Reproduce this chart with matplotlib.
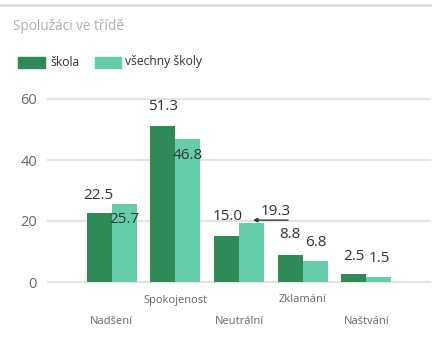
import numpy as np
import matplotlib.pyplot as plt
from matplotlib.patches import Rectangle
from matplotlib.lines import Line2D
from matplotlib.transforms import offset_copy

plt.rcParams['font.family'] = ['Open Sans', 'DejaVu Sans']

categories = ['Nadšení', 'Spokojenost', 'Neutrální', 'Zklamání', 'Naštvání']
skola = [22.5, 51.3, 15.0, 8.8, 2.5]
vsechny = [25.7, 46.8, 19.3, 6.8, 1.5]
yticks = [0, 20, 40, 60]

dark = '#2e8b57'
light = '#66cdaa'

# label offsets in pixels from the top of each bar (dx, dy)
off_skola = [(-1, 18), (0, 19), (1, 20), (0, 21), (0, 18)]
off_vsechny = [(0, -16), (0, -16), (24, 12), (1, 19), (0, 19)]

fig = plt.figure(figsize=(4.38, 3.41), dpi=100)
ax = fig.add_axes([48/438, 59/341, 382/438, 183/341])

x = np.arange(len(categories))
w = 0.394
b1 = ax.bar(x - w/2, skola, w, color=dark)
b2 = ax.bar(x + w/2, vsechny, w, color=light)

ax.set_xlim(-1.0, 5.0)
ax.set_ylim(0, 60)
ax.set_yticks(yticks)
ax.set_xticks([])
ax.grid(axis='y', color='#e3e3e3', lw=1.5)
ax.set_axisbelow(True)
for s in ax.spines.values():
    s.set_visible(False)
ax.tick_params(axis='y', length=0, pad=8, labelsize=10.5, labelcolor='#666666')
for gl in ax.get_ygridlines():
    gl.set_clip_on(False)

def label(bars, vals, offs):
    for r, v, (dx, dy) in zip(bars, vals, offs):
        ax.annotate(f'{v:.1f}', (r.get_x() + r.get_width()/2, v),
                    xytext=(dx, dy), textcoords='offset pixels',
                    ha='center', va='center', fontsize=11, color='#333333')

label(b1, skola, off_skola)
label(b2, vsechny, off_vsechny)

# leader line for the crowded label
r = b2[2]
tip = offset_copy(ax.transData, fig=fig, x=1.5, y=3, units='dots')
ax.annotate('', xy=(r.get_x() + r.get_width()/2, vsechny[2]), xycoords=tip,
            xytext=(35, 0), textcoords='offset pixels',
            arrowprops=dict(arrowstyle='-|>', color='#333333', lw=1,
                            mutation_scale=6, shrinkA=0, shrinkB=0),
            annotation_clip=False)

# category labels, staggered in two rows
for i, c in enumerate(categories):
    dy = -40 if i % 2 == 0 else -18
    ax.annotate(c, (i, 0), xytext=(0, dy), textcoords='offset pixels',
                ha='center', va='center', fontsize=8, color='#666666',
                annotation_clip=False)

fig.text(13/438, 1 - 27/341, 'Spolužáci ve třídě', fontsize=9.8,
         color='#b0b0b0', ha='left', va='center')

# legend
fig.patches.append(Rectangle((18/438, 1 - 68/341), 27/438, 11/341,
                             transform=fig.transFigure, color=dark))
fig.text(50/438, 1 - 62/341, 'škola', fontsize=8.7, color='#333333', va='center')
fig.patches.append(Rectangle((95/438, 1 - 68/341), 26/438, 11/341,
                             transform=fig.transFigure, color=light))
fig.text(125/438, 1 - 62/341, 'všechny školy', fontsize=8.7, color='#333333', va='center')

# frame line across the top
fig.lines.append(Line2D([0, 430/438], [1 - 5/341] * 2, transform=fig.transFigure,
                        color='#dddddd', lw=2))

fig.savefig('out.png', dpi=100)
